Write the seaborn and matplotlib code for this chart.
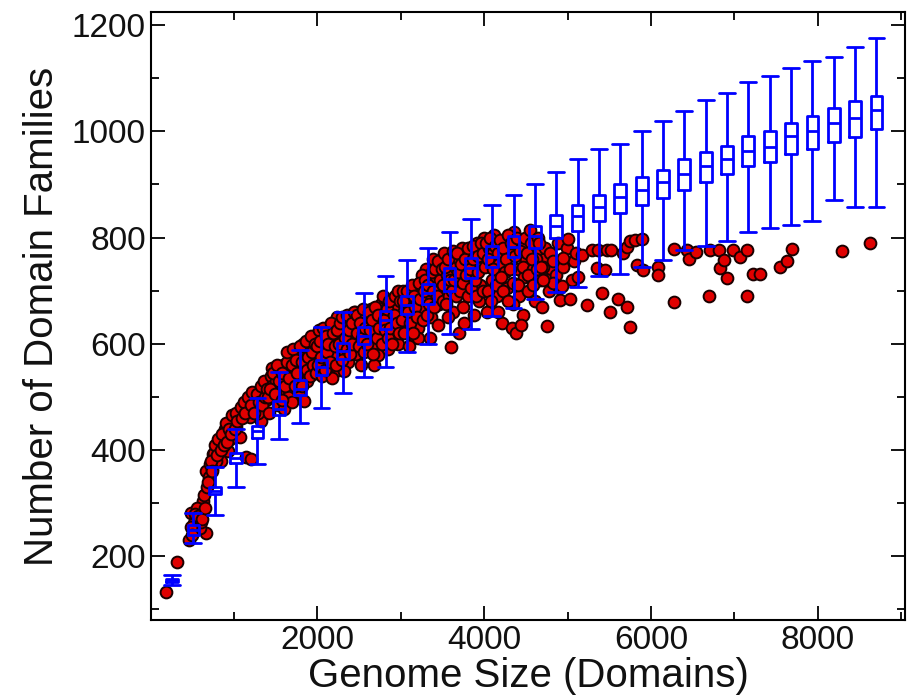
import numpy as np
import pandas as pd
import matplotlib
matplotlib.use('Agg')
import matplotlib.pyplot as plt
import matplotlib.ticker as mtick
import seaborn as sns

# ── Box summaries (sampled genomes): position, whisker low, Q1, median, Q3, whisker high
box_pos = [256, 512, 768, 1024, 1280, 1536, 1792, 2048, 2304, 2560, 2816, 3072,
           3328, 3584, 3840, 4096, 4352, 4608, 4864, 5120, 5376, 5632, 5888, 6144,
           6400, 6656, 6912, 7168, 7424, 7680, 7936, 8192, 8448, 8704]
box_lo = [145, 225, 278, 331, 373, 421, 450, 479, 508, 537, 556, 585,
          599, 618, 627, 652, 667, 685, 698, 707, 728, 731, 745, 757,
          776, 784, 794, 810, 818, 823, 832, 871, 857, 857]
box_q1 = [152, 240, 317, 375, 423, 465, 503, 542, 571, 599, 627, 656,
          674, 700, 723, 744, 763, 780, 799, 813, 832, 847, 861, 875,
          889, 904, 919, 934, 942, 957, 966, 980, 990, 1005]
box_med = [155, 249, 323, 385, 435, 477, 515, 556, 586, 615, 644, 673,
           695, 721, 742, 763, 783, 802, 822, 841, 857, 876, 889, 904,
           919, 934, 947, 962, 971, 991, 1001, 1015, 1025, 1040]
box_q3 = [158, 259, 331, 394, 446, 493, 531, 570, 602, 632, 661, 690,
          713, 742, 761, 784, 803, 822, 843, 862, 881, 900, 914, 928,
          948, 961, 972, 991, 1001, 1015, 1029, 1043, 1057, 1067]
box_hi = [164, 282, 368, 440, 498, 546, 589, 632, 660, 695, 728, 757,
          780, 810, 834, 862, 881, 900, 924, 947, 967, 977, 1000, 1019,
          1038, 1059, 1072, 1092, 1105, 1119, 1133, 1139, 1158, 1176]

pts_small = [(180, 133), (316, 189), (460, 230), (488, 282), (548, 272), (628, 304),
             (660, 244), (588, 254), (608, 288), (520, 262), (560, 290), (600, 265),
             (640, 315), (668, 361), (708, 373), (748, 392), (788, 405), (828, 414),
             (908, 430), (968, 449), (1028, 443), (1068, 424), (928, 399), (848, 380),
             (788, 380), (1148, 386), (1208, 383), (1140, 487), (1188, 462), (1328, 455),
             (1308, 503), (1408, 528), (700, 350), (730, 365), (760, 395), (820, 400),
             (870, 420), (890, 440), (950, 420), (1000, 455), (1050, 470), (1100, 480),
             (1160, 475), (1230, 495), (1260, 480), (1290, 470), (1350, 510), (1380, 495),
             (480, 255), (500, 240), (530, 280), (570, 275), (620, 270), (650, 290),
             (680, 330), (690, 340), (720, 380), (740, 360), (770, 410), (800, 390),
             (810, 420), (840, 400), (860, 430), (880, 410), (900, 450), (920, 415),
             (940, 440), (960, 430), (980, 465), (1010, 440), (1020, 470), (1040, 455),
             (1080, 480), (1090, 460), (1120, 490), (1130, 470), (1170, 500), (1200, 485),
             (1220, 510), (1240, 470), (1270, 505), (1300, 490), (1320, 520), (1340, 485),
             (1360, 530), (1370, 500), (1390, 515)]
pts_mid = [(1420, 470), (1450, 500), (1480, 530), (1510, 548), (1530, 485), (1560, 515),
           (1590, 560), (1620, 540), (1650, 500), (1670, 575), (1700, 525), (1720, 555),
           (1750, 585), (1780, 510), (1800, 545), (1830, 600), (1850, 570), (1880, 530),
           (1900, 590), (1930, 555), (1960, 610), (1990, 575), (1450, 555), (1600, 478),
           (1700, 490), (1840, 492), (1440, 540), (1460, 520), (1500, 530),
           (1410, 500), (1430, 515), (1470, 545), (1490, 505), (1520, 560), (1540, 530),
           (1570, 495), (1580, 545), (1610, 520), (1630, 565), (1640, 585), (1660, 535),
           (1690, 560), (1710, 590), (1730, 520), (1740, 570), (1760, 545), (1790, 595),
           (1810, 565), (1820, 520), (1860, 605), (1870, 550), (1890, 575), (1910, 540),
           (1920, 615), (1940, 585), (1950, 560), (1970, 600), (1980, 545),
           (2020, 625), (2050, 540), (2080, 590), (2110, 560), (2140, 630), (2170, 600),
           (2200, 575), (2230, 650), (2250, 550), (2280, 615), (2310, 590), (2340, 640),
           (2370, 565), (2400, 655), (2430, 605), (2460, 580), (2490, 635), (2060, 608),
           (2180, 535), (2320, 548), (2450, 660),
           (2000, 595), (2010, 560), (2030, 605), (2040, 575), (2070, 630), (2090, 550),
           (2100, 615), (2120, 585), (2130, 600), (2150, 565), (2160, 640), (2190, 620),
           (2210, 595), (2220, 560), (2240, 625), (2260, 600), (2270, 640), (2290, 570),
           (2300, 650), (2330, 610), (2350, 590), (2360, 655), (2380, 625), (2390, 580),
           (2410, 640), (2420, 600), (2440, 660), (2470, 620), (2480, 655), (2500, 595),
           (2520, 560), (2550, 620), (2580, 650), (2610, 590), (2640, 665), (2670, 600),
           (2700, 635), (2730, 578), (2760, 675), (2790, 615), (2820, 685), (2850, 590),
           (2880, 650), (2910, 625), (2940, 690), (2970, 600), (3000, 660), (2600, 640),
           (2750, 655), (2900, 670), (2560, 585), (2680, 560),
           (2510, 640), (2530, 610), (2540, 665), (2570, 630), (2590, 600), (2620, 660),
           (2630, 625), (2650, 645), (2660, 580), (2690, 670), (2710, 610), (2720, 655),
           (2740, 630), (2770, 600), (2780, 690), (2800, 645), (2810, 625), (2830, 665),
           (2840, 610), (2860, 680), (2870, 630), (2890, 600), (2920, 655), (2930, 690),
           (2950, 640), (2960, 700), (2980, 620), (2990, 680)]
pts_upper = [(3030, 700), (3060, 640), (3090, 620), (3120, 680), (3150, 655), (3180, 695),
             (3210, 630), (3240, 710), (3270, 665), (3300, 740), (3330, 690), (3360, 650),
             (3390, 760), (3420, 720), (3450, 635), (3480, 700), (3100, 595), (3200, 610),
             (3350, 610), (3460, 675), (3050, 675), (3250, 730),
             (3010, 645), (3020, 680), (3040, 620), (3070, 700), (3080, 660), (3110, 640),
             (3130, 710), (3140, 620), (3160, 690), (3170, 670), (3190, 650), (3220, 715),
             (3230, 685), (3260, 645), (3280, 700), (3290, 720), (3310, 655), (3320, 710),
             (3340, 675), (3370, 735), (3380, 700), (3400, 670), (3410, 740), (3430, 690),
             (3440, 755), (3470, 720), (3490, 740), (3500, 680),
             (3520, 770), (3550, 730), (3580, 690), (3600, 594), (3620, 660), (3650, 745),
             (3680, 710), (3700, 620), (3730, 780), (3760, 640), (3790, 700), (3820, 760),
             (3850, 725), (3880, 655), (3910, 790), (3940, 680), (3970, 745), (4000, 800),
             (3560, 650), (3700, 760), (3850, 690), (3950, 710),
             (3510, 710), (3530, 745), (3540, 675), (3570, 760), (3590, 720), (3610, 700),
             (3630, 775), (3640, 720), (3660, 690), (3670, 770), (3690, 735), (3710, 700),
             (3720, 750), (3740, 715), (3750, 670), (3770, 760), (3780, 730), (3800, 690),
             (3810, 780), (3830, 740), (3840, 705), (3860, 785), (3870, 760), (3890, 720),
             (3900, 690), (3920, 765), (3930, 735), (3960, 790), (3980, 700), (3990, 770),
             (4030, 660), (4060, 780), (4090, 720), (4120, 805), (4150, 690), (4180, 750),
             (4210, 640), (4240, 795), (4270, 705), (4300, 770), (4330, 630), (4360, 810),
             (4380, 620), (4400, 740), (4420, 690), (4450, 790), (4470, 655), (4500, 760),
             (4100, 770), (4250, 735), (4350, 675), (4480, 725), (4440, 635),
             (4010, 745), (4020, 790), (4040, 700), (4050, 760), (4070, 800), (4080, 680),
             (4110, 740), (4130, 785), (4140, 710), (4160, 770), (4170, 660), (4190, 795),
             (4200, 725), (4220, 780), (4230, 700), (4260, 760), (4280, 805), (4290, 680),
             (4310, 740), (4320, 790), (4340, 715), (4370, 765), (4390, 800), (4410, 710),
             (4430, 775), (4460, 745), (4490, 800)]
pts_large = [(4520, 700), (4550, 815), (4580, 740), (4610, 680), (4640, 775), (4670, 720),
             (4690, 670), (4720, 760), (4747, 633), (4780, 700), (4600, 790), (4800, 740),
             (4560, 790), (4620, 760), (4650, 800), (4700, 745), (4730, 780), (4760, 720),
             (4790, 770), (4830, 755), (4860, 730), (4880, 790), (4900, 705), (4950, 745),
             (4990, 780), (5050, 720), (5080, 755), (5100, 770), (4827, 714), (4927, 708),
             (4907, 682), (4947, 761), (5007, 797), (5027, 684), (5127, 726), (5167, 767),
             (5227, 673), (5287, 777), (5347, 742), (5367, 777), (5407, 696), (5447, 739),
             (5467, 777), (5507, 660), (5515, 777), (5607, 684), (5667, 771), (5707, 670),
             (5707, 783), (5747, 793), (5747, 631), (5807, 796), (5827, 749), (5887, 797),
             (5907, 738), (6087, 745), (6087, 730), (6275, 778), (6275, 679), (6427, 777),
             (6459, 759), (6539, 772), (6699, 689), (6707, 776), (6819, 776), (6827, 742),
             (6875, 757), (6907, 723), (6987, 777), (7067, 763), (7147, 777), (7147, 690),
             (7227, 731), (7307, 731), (7547, 745), (7627, 755), (7687, 778), (8287, 774),
             (8626, 789), (4510, 770), (4530, 730), (4570, 760), (4590, 710), (4630, 740),
             (4660, 790), (4680, 745), (4710, 720)]

plt.rcParams.update({'figure.dpi': 100})
sns.set_theme(style='ticks')
plt.rcParams['font.family'] = ['Liberation Sans', 'DejaVu Sans']

pts = pts_small + pts_mid + pts_upper + pts_large
obs = pd.DataFrame(pts, columns=['genome', 'families'])

rows = []
for p, lo, q1, md, q3, hi in zip(box_pos, box_lo, box_q1, box_med, box_q3, box_hi):
    for v in (lo, q1, md, q3, hi):
        rows.append({'genome': p, 'families': v})
boxes = pd.DataFrame(rows)

fig, ax = plt.subplots(figsize=(9.08, 6.95))
fig.subplots_adjust(left=0.166, right=0.997, top=0.983, bottom=0.108)

sns.scatterplot(data=obs, x='genome', y='families', ax=ax, s=72,
                color='#e00000', edgecolor='#1a0000', linewidth=1.4, zorder=1)
sns.boxplot(data=boxes, x='genome', y='families', native_scale=True, ax=ax,
            whis=(0, 100), width=0.55, fill=False, color='#0000ff',
            linecolor='#0000ff', linewidth=2.0, capwidths=190)

ax.set_xlim(0, 9050)
ax.set_ylim(80, 1225)
ax.set_xticks([2000, 4000, 6000, 8000])
ax.set_yticks([200, 400, 600, 800, 1000, 1200])
ax.xaxis.set_minor_locator(mtick.MultipleLocator(1000))
ax.yaxis.set_minor_locator(mtick.MultipleLocator(100))
ax.tick_params(which='both', direction='in', top=True, right=True,
               labelsize=24, width=1.3, colors='black', labelcolor='#111111')
ax.tick_params(which='major', length=10)
ax.tick_params(which='minor', length=6)
for sp in ax.spines.values():
    sp.set_linewidth(1.5)
    sp.set_color('black')
ax.set_xlabel('Genome Size (Domains)', fontsize=29, labelpad=1, color='#111111')
ax.set_ylabel('Number of Domain Families', fontsize=29, labelpad=8, color='#111111')

fig.savefig('out.png', dpi=100)
